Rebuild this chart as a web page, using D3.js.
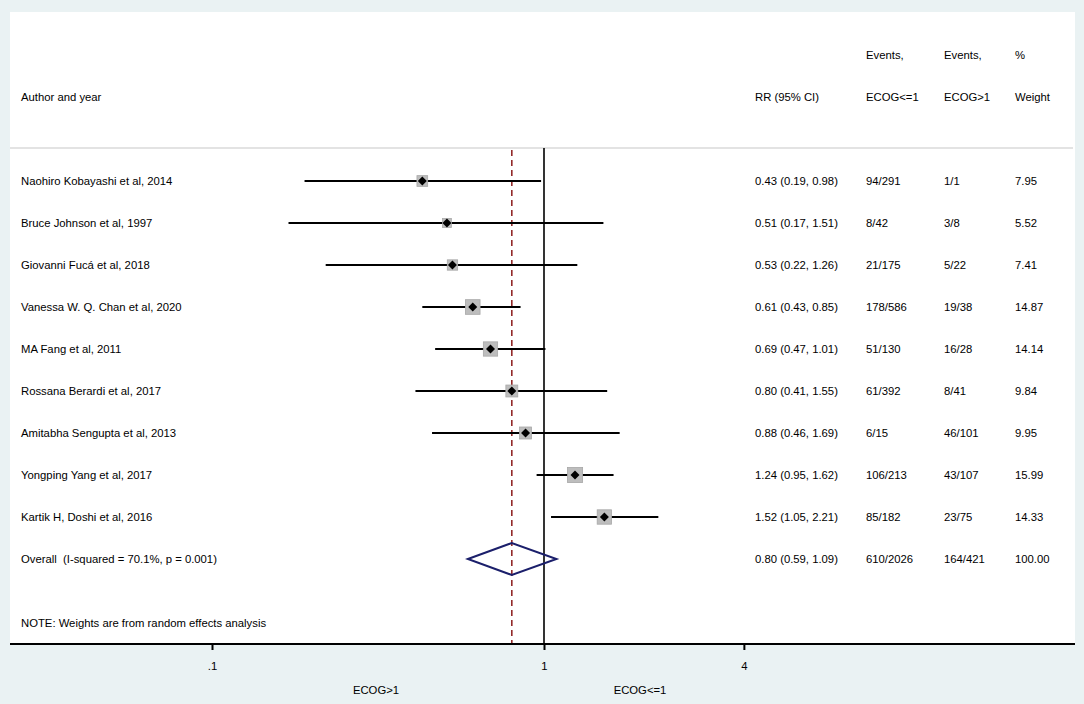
<!DOCTYPE html>
<html lang="en">
<head>
    <meta charset="UTF-8">
    <title>Forest plot</title>
    <script type="text/javascript" src="https://cdnjs.cloudflare.com/ajax/libs/d3/7.8.5/d3.min.js"></script>
    <style>
        body { margin: 0; background: #eaf2f3; }
        text { font-family: "Liberation Sans", Arial, sans-serif; font-size: 11.3px; fill: #000; white-space: pre; }
    </style>
</head>
<body>
<svg id="forest" width="1084" height="704"></svg>

<script type="text/javascript">
    const studies = [
        "Naohiro Kobayashi et al, 2014",
        "Bruce Johnson et al, 1997",
        "Giovanni Fucá et al, 2018",
        "Vanessa W. Q. Chan et al, 2020",
        "MA Fang et al, 2011",
        "Rossana Berardi et al, 2017",
        "Amitabha Sengupta et al, 2013",
        "Yongping Yang et al, 2017",
        "Kartik H, Doshi et al, 2016"
    ];
    const rr = [0.43, 0.51, 0.53, 0.61, 0.69, 0.80, 0.88, 1.24, 1.52];
    const lower = [0.19, 0.17, 0.22, 0.43, 0.47, 0.41, 0.46, 0.95, 1.05];
    const upper = [0.98, 1.51, 1.26, 0.85, 1.01, 1.55, 1.69, 1.62, 2.21];
    const eventsLow = ["94/291", "8/42", "21/175", "178/586", "51/130", "61/392", "6/15", "106/213", "85/182"];
    const eventsHigh = ["1/1", "3/8", "5/22", "19/38", "16/28", "8/41", "46/101", "43/107", "23/75"];
    const weights = [7.95, 5.52, 7.41, 14.87, 14.14, 9.84, 9.95, 15.99, 14.33];

    const overall = { label: "Overall  (I-squared = 70.1%, p = 0.001)", rr: 0.80, lower: 0.59, upper: 1.09,
        eventsLow: "610/2026", eventsHigh: "164/421", weight: 100.00 };
    const note = "NOTE: Weights are from random effects analysis";

    const tickValues = [0.1, 1, 4];
    const tickLabels = [".1", "1", "4"];

    const svg = d3.select("#forest");
    const panelLeft = 10, panelRight = 1075, panelTop = 12, axisY = 644, headerLine = 148;

    // white plot panel
    svg.append("rect")
        .attr("x", panelLeft).attr("y", panelTop)
        .attr("width", panelRight - panelLeft).attr("height", axisY - panelTop)
        .attr("fill", "#fff");

    // log scale: .1 -> 212, 1 -> 544
    const x = d3.scaleLog().domain([0.1, 1]).range([212, 544]);
    const y = d3.scaleLinear().domain([0, studies.length]).range([181, 559]);

    // column positions
    const cols = { label: 21, rr: 755, evLow: 866, evHigh: 944, weight: 1015 };

    // header
    const header = svg.append("g");
    header.append("text").attr("x", cols.label).attr("y", 97).attr("dy", "0.35em").text("Author and year");
    header.append("text").attr("x", cols.rr).attr("y", 97).attr("dy", "0.35em").text("RR (95% CI)");
    header.append("text").attr("x", cols.evLow).attr("y", 55).attr("dy", "0.35em").text("Events,");
    header.append("text").attr("x", cols.evLow).attr("y", 97).attr("dy", "0.35em").text("ECOG<=1");
    header.append("text").attr("x", cols.evHigh).attr("y", 55).attr("dy", "0.35em").text("Events,");
    header.append("text").attr("x", cols.evHigh).attr("y", 97).attr("dy", "0.35em").text("ECOG>1");
    header.append("text").attr("x", cols.weight).attr("y", 55).attr("dy", "0.35em").text("%");
    header.append("text").attr("x", cols.weight).attr("y", 97).attr("dy", "0.35em").text("Weight");

    svg.append("line")
        .attr("x1", panelLeft).attr("x2", panelRight - 2)
        .attr("y1", headerLine).attr("y2", headerLine)
        .attr("stroke", "#c8c8c8").attr("stroke-width", 1.2);

    // reference lines
    svg.append("line")
        .attr("x1", x(1)).attr("x2", x(1))
        .attr("y1", headerLine).attr("y2", axisY)
        .attr("stroke", "#000").attr("stroke-width", 1.6);
    svg.append("line")
        .attr("x1", x(overall.rr)).attr("x2", x(overall.rr))
        .attr("y1", headerLine + 2).attr("y2", axisY)
        .attr("stroke", "#8b1a1a").attr("stroke-width", 1.5)
        .attr("stroke-dasharray", "6,4");

    // study rows
    const rows = studies.map(function(s, i) {
        return { label: s, rr: rr[i], lower: lower[i], upper: upper[i],
            eventsLow: eventsLow[i], eventsHigh: eventsHigh[i], weight: weights[i], i: i };
    });

    const row = svg.append("g").selectAll("g")
        .data(rows)
        .enter().append("g");

    row.append("line")
        .attr("x1", d => x(d.lower)).attr("x2", d => x(d.upper))
        .attr("y1", d => y(d.i)).attr("y2", d => y(d.i))
        .attr("stroke", "#000").attr("stroke-width", 2);

    const side = d => 3.8 * Math.sqrt(d.weight);
    row.append("rect")
        .attr("x", d => x(d.rr) - side(d) / 2)
        .attr("y", d => y(d.i) - side(d) / 2)
        .attr("width", side).attr("height", side)
        .attr("fill", "#bdbdbd").attr("stroke", "#a8a8a8").attr("stroke-width", 0.8);

    row.append("path")
        .attr("d", d => {
            const cx = x(d.rr), cy = y(d.i), r = 4.5;
            return "M" + (cx - r) + "," + cy + "L" + cx + "," + (cy - r) + "L" + (cx + r) + "," + cy + "L" + cx + "," + (cy + r) + "Z";
        })
        .attr("fill", "#000");

    function rrText(d) {
        return d.rr.toFixed(2) + " (" + d.lower.toFixed(2) + ", " + d.upper.toFixed(2) + ")";
    }

    const allRows = rows.concat([Object.assign({ i: studies.length }, overall)]);
    const txt = svg.append("g").selectAll("g").data(allRows).enter().append("g");
    txt.append("text").attr("x", cols.label).attr("y", d => y(d.i)).attr("dy", "0.35em").text(d => d.label);
    txt.append("text").attr("x", cols.rr).attr("y", d => y(d.i)).attr("dy", "0.35em").text(rrText);
    txt.append("text").attr("x", cols.evLow).attr("y", d => y(d.i)).attr("dy", "0.35em").text(d => d.eventsLow);
    txt.append("text").attr("x", cols.evHigh).attr("y", d => y(d.i)).attr("dy", "0.35em").text(d => d.eventsHigh);
    txt.append("text").attr("x", cols.weight).attr("y", d => y(d.i)).attr("dy", "0.35em").text(d => d.weight.toFixed(2));

    // overall diamond
    const oy = y(studies.length), oh = 16;
    svg.append("path")
        .attr("d", "M" + x(overall.lower) + "," + oy +
            "L" + x(overall.rr) + "," + (oy - oh) +
            "L" + x(overall.upper) + "," + oy +
            "L" + x(overall.rr) + "," + (oy + oh) + "Z")
        .attr("fill", "none").attr("stroke", "#1b1f6b").attr("stroke-width", 2);

    svg.append("text").attr("x", cols.label).attr("y", 623).attr("dy", "0.35em").text(note);

    // x axis
    const axis = svg.append("g")
        .attr("transform", "translate(0," + axisY + ")")
        .call(d3.axisBottom(x)
            .tickValues(tickValues)
            .tickFormat((d, i) => tickLabels[i])
            .tickSize(6)
            .tickPadding(12));
    axis.select(".domain").remove();
    axis.selectAll(".tick line").attr("stroke", "#000").attr("stroke-width", 2);
    axis.selectAll(".tick text").style("font-family", "'Liberation Sans', Arial, sans-serif").style("font-size", "11.3px");
    axis.append("line")
        .attr("x1", panelLeft).attr("x2", panelRight)
        .attr("y1", 0).attr("y2", 0)
        .attr("stroke", "#000").attr("stroke-width", 2);

    svg.append("text").attr("x", 376).attr("y", 690).attr("dy", "0.35em")
        .attr("text-anchor", "middle").text("ECOG>1");
    svg.append("text").attr("x", 640).attr("y", 690).attr("dy", "0.35em")
        .attr("text-anchor", "middle").text("ECOG<=1");
</script>

</body>
</html>
